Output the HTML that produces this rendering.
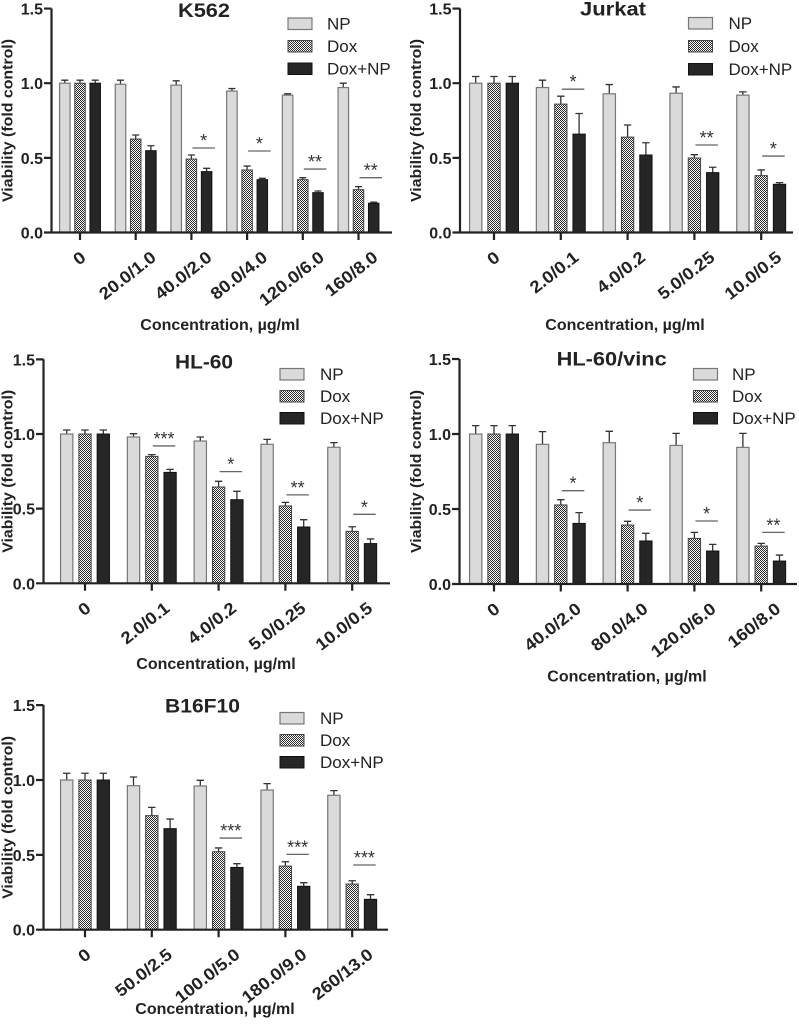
<!DOCTYPE html>
<html><head><meta charset="utf-8"><style>
html,body{margin:0;padding:0;background:#fff;}
svg{display:block;}
text{font-family:"Liberation Sans",Arial,sans-serif;}
.np{fill:#dadada;stroke:#777;stroke-width:1.2}
.dx{fill:url(#chk);stroke:#444;stroke-width:1}
.dn{fill:#262626;stroke:#111;stroke-width:1}
.eb{stroke:#333;stroke-width:1.3;fill:none}
.ax{stroke:#222;stroke-width:2.2;fill:none}
.sg{stroke:#666;stroke-width:1.3}
.yt{font-size:16px;font-weight:bold;fill:#222;text-anchor:end}
.xt{font-size:17px;font-weight:bold;fill:#222;text-anchor:end}
.tt{font-size:19px;font-weight:bold;fill:#222;text-anchor:middle}
.yl{font-size:14.5px;font-weight:bold;fill:#222;text-anchor:middle}
.xl{font-size:16px;font-weight:bold;fill:#222;text-anchor:middle}
.lg{font-size:17px;fill:#222}
.st{font-size:18px;fill:#333;text-anchor:middle}
</style></head><body>
<svg width="799" height="1024" viewBox="0 0 799 1024" xmlns="http://www.w3.org/2000/svg">
<defs>
<pattern id="chk" width="2" height="2" patternUnits="userSpaceOnUse"><rect width="2" height="2" fill="#fff"/><rect width="1" height="1" fill="#2a2a2a"/><rect x="1" y="1" width="1" height="1" fill="#2a2a2a"/></pattern>
</defs>
<rect width="799" height="1024" fill="#fff"/>

<!-- ================= K562 ================= -->
<g>
<text class="tt" x="204" y="17" textLength="52" lengthAdjust="spacingAndGlyphs">K562</text>
<text class="yl" transform="translate(12.5,120.5) rotate(-90)" textLength="163" lengthAdjust="spacingAndGlyphs">Viability (fold control)</text>
<text class="yt" x="43" y="14.5">1.5</text>
<text class="yt" x="43" y="89.2">1.0</text>
<text class="yt" x="43" y="163.9">0.5</text>
<text class="yt" x="43" y="238.5">0.0</text>
<path class="eb" d="M64.8 83.2V80.2M61.3 80.2H68.3M80 83.2V80.2M76.5 80.2H83.5M95.2 83.2V80.2M91.7 80.2H98.7
M120.5 84.25V80.21M117 80.21H124M135.7 139.04V135.01M132.2 135.01H139.2M150.9 150.68V145.76M147.4 145.76H154.4
M176.2 85.14V80.81M172.7 80.81H179.7M191.4 159.04V155.01M187.9 155.01H194.9M206.6 171.59V168.3M203.1 168.3H210.1
M231.9 91.11V88.57M228.4 88.57H235.4M247.1 169.94V166.06M243.6 166.06H250.6M262.3 179.65V178.3M258.8 178.3H265.8
M287.6 95.14V93.8M284.1 93.8H291.1M302.8 179.65V177.71M299.3 177.71H306.3M318 192.64V190.99M314.5 190.99H321.5
M343.3 87.53V83.2M339.8 83.2H346.8M358.5 189.65V186.66M355 186.66H362M373.7 203.24V202.19M370.2 202.19H377.2"/>
<rect class="np" x="59.55" y="83.2" width="10.5" height="149.3"/>
<rect class="dx" x="74.75" y="83.2" width="10.5" height="149.3"/>
<rect class="dn" x="89.95" y="83.2" width="10.5" height="149.3"/>
<rect class="np" x="115.25" y="84.25" width="10.5" height="148.25"/>
<rect class="dx" x="130.45" y="139.04" width="10.5" height="93.46"/>
<rect class="dn" x="145.65" y="150.68" width="10.5" height="81.82"/>
<rect class="np" x="170.95" y="85.14" width="10.5" height="147.36"/>
<rect class="dx" x="186.15" y="159.04" width="10.5" height="73.46"/>
<rect class="dn" x="201.35" y="171.59" width="10.5" height="60.91"/>
<rect class="np" x="226.65" y="91.11" width="10.5" height="141.39"/>
<rect class="dx" x="241.85" y="169.94" width="10.5" height="62.56"/>
<rect class="dn" x="257.05" y="179.65" width="10.5" height="52.85"/>
<rect class="np" x="282.35" y="95.14" width="10.5" height="137.36"/>
<rect class="dx" x="297.55" y="179.65" width="10.5" height="52.85"/>
<rect class="dn" x="312.75" y="192.64" width="10.5" height="39.86"/>
<rect class="np" x="338.05" y="87.53" width="10.5" height="144.97"/>
<rect class="dx" x="353.25" y="189.65" width="10.5" height="42.85"/>
<rect class="dn" x="368.45" y="203.24" width="10.5" height="29.26"/>
<path class="sg" d="M192.4 148H214.9M248.1 150.98H270.6M303.8 169.05H326.3M359.5 177.71H382"/>
<text class="st" x="203.6" y="147">*</text>
<text class="st" x="259.4" y="150">*</text>
<text class="st" x="315" y="168">**</text>
<text class="st" x="370.7" y="176.7">**</text>
<path class="ax" d="M51.5 8.5V232.5H392M44 8.55H51.5M44 83.2H51.5M44 157.85H51.5M44 232.5H51.5M80 232.5V240M135.7 232.5V240M191.4 232.5V240M247.1 232.5V240M302.8 232.5V240M358.5 232.5V240"/>
<text class="xt" transform="translate(87,259.5) rotate(-38)" textLength="10.5" lengthAdjust="spacingAndGlyphs">0</text>
<text class="xt" transform="translate(157.2,259.5) rotate(-38)" textLength="66.5" lengthAdjust="spacingAndGlyphs">20.0/1.0</text>
<text class="xt" transform="translate(212.9,259.5) rotate(-38)" textLength="66.5" lengthAdjust="spacingAndGlyphs">40.0/2.0</text>
<text class="xt" transform="translate(268.6,259.5) rotate(-38)" textLength="66.5" lengthAdjust="spacingAndGlyphs">80.0/4.0</text>
<text class="xt" transform="translate(325.3,259.5) rotate(-38)" textLength="76.7" lengthAdjust="spacingAndGlyphs">120.0/6.0</text>
<text class="xt" transform="translate(379,259.5) rotate(-38)" textLength="61.4" lengthAdjust="spacingAndGlyphs">160/8.0</text>
<text class="xl" x="220" y="330">Concentration, µg/ml</text>
<rect class="np" x="288" y="18" width="24" height="11.5"/>
<rect class="dx" x="288" y="40.5" width="24" height="11.5"/>
<rect class="dn" x="288" y="63" width="24" height="11.5"/>
<text class="lg" x="327" y="29.5">NP</text>
<text class="lg" x="327" y="52">Dox</text>
<text class="lg" x="327" y="74.5">Dox+NP</text>
</g>

<!-- ================= Jurkat ================= -->
<g>
<text class="tt" x="613" y="15.5" textLength="66" lengthAdjust="spacingAndGlyphs">Jurkat</text>
<text class="yl" transform="translate(421,120.5) rotate(-90)" textLength="163" lengthAdjust="spacingAndGlyphs">Viability (fold control)</text>
<text class="yt" x="451.5" y="14.5">1.5</text>
<text class="yt" x="451.5" y="89.2">1.0</text>
<text class="yt" x="451.5" y="163.9">0.5</text>
<text class="yt" x="451.5" y="238.5">0.0</text>
<path class="eb" d="M475.7 83.2V76.48M472 76.48H479.4M494 83.2V76.48M490.3 76.48H497.7M512.3 83.2V76.48M508.6 76.48H516
M542.5 87.53V80.21M538.8 80.21H546.2M560.8 104.1V96.19M557.1 96.19H564.5M579.1 134.11V113.51M575.4 113.51H582.8
M609.3 93.8V84.54M605.6 84.54H613M627.6 137.1V125M623.9 125H631.3M645.9 155.01V142.77M642.2 142.77H649.6
M676.1 93.2V86.93M672.4 86.93H679.8M694.4 158V154.71M690.7 154.71H698.1M712.7 172.63V167.26M709 167.26H716.4
M742.9 95.14V91.86M739.2 91.86H746.6M761.2 175.62V169.94M757.5 169.94H764.9M779.5 184.28V182.63M775.8 182.63H783.2"/>
<rect class="np" x="469.55" y="83.2" width="12.3" height="149.3"/>
<rect class="dx" x="487.85" y="83.2" width="12.3" height="149.3"/>
<rect class="dn" x="506.15" y="83.2" width="12.3" height="149.3"/>
<rect class="np" x="536.35" y="87.53" width="12.3" height="144.97"/>
<rect class="dx" x="554.65" y="104.1" width="12.3" height="128.4"/>
<rect class="dn" x="572.95" y="134.11" width="12.3" height="98.39"/>
<rect class="np" x="603.15" y="93.8" width="12.3" height="138.7"/>
<rect class="dx" x="621.45" y="137.1" width="12.3" height="95.4"/>
<rect class="dn" x="639.75" y="155.01" width="12.3" height="77.49"/>
<rect class="np" x="669.95" y="93.2" width="12.3" height="139.3"/>
<rect class="dx" x="688.25" y="158" width="12.3" height="74.5"/>
<rect class="dn" x="706.55" y="172.63" width="12.3" height="59.87"/>
<rect class="np" x="736.75" y="95.14" width="12.3" height="137.36"/>
<rect class="dx" x="755.05" y="175.62" width="12.3" height="56.88"/>
<rect class="dn" x="773.35" y="184.28" width="12.3" height="48.22"/>
<path class="sg" d="M561.8 89.17H584.3M695.4 145.01H717.9M762.2 156.06H784.7"/>
<text class="st" x="573" y="88.2">*</text>
<text class="st" x="706.6" y="144">**</text>
<text class="st" x="773.4" y="155">*</text>
<path class="ax" d="M460 8.5V232.5H793M452.5 8.55H460M452.5 83.2H460M452.5 157.85H460M452.5 232.5H460M494 232.5V240M560.8 232.5V240M627.6 232.5V240M694.4 232.5V240M761.2 232.5V240"/>
<text class="xt" transform="translate(501,259.5) rotate(-38)" textLength="10.5" lengthAdjust="spacingAndGlyphs">0</text>
<text class="xt" transform="translate(579.8,259.5) rotate(-38)" textLength="56.3" lengthAdjust="spacingAndGlyphs">2.0/0.1</text>
<text class="xt" transform="translate(646.6,259.5) rotate(-38)" textLength="56.3" lengthAdjust="spacingAndGlyphs">4.0/0.2</text>
<text class="xt" transform="translate(715.9,259.5) rotate(-38)" textLength="66.5" lengthAdjust="spacingAndGlyphs">5.0/0.25</text>
<text class="xt" transform="translate(782.7,259.5) rotate(-38)" textLength="66.5" lengthAdjust="spacingAndGlyphs">10.0/0.5</text>
<text class="xl" x="625" y="330">Concentration, µg/ml</text>
<rect class="np" x="688.5" y="17.5" width="24" height="11.5"/>
<rect class="dx" x="688.5" y="40.5" width="24" height="11.5"/>
<rect class="dn" x="688.5" y="63.5" width="24" height="11.5"/>
<text class="lg" x="728.5" y="29">NP</text>
<text class="lg" x="728.5" y="52">Dox</text>
<text class="lg" x="728.5" y="75">Dox+NP</text>
</g>

<!-- ================= HL-60 ================= -->
<g>
<text class="tt" x="204" y="368.5" textLength="58" lengthAdjust="spacingAndGlyphs">HL-60</text>
<text class="yl" transform="translate(12.5,471.3) rotate(-90)" textLength="163" lengthAdjust="spacingAndGlyphs">Viability (fold control)</text>
<text class="yt" x="35" y="365.3">1.5</text>
<text class="yt" x="35" y="440">1.0</text>
<text class="yt" x="35" y="514.6">0.5</text>
<text class="yt" x="35" y="589.3">0.0</text>
<path class="eb" d="M66.7 434V429.97M63 429.97H70.4M85 434V429.97M81.3 429.97H88.7M103.3 434V429.97M99.6 429.97H107
M133.5 436.99V433.7M129.8 433.7H137.2M151.8 456.4V454.6M148.1 454.6H155.5M170.1 472.37V469.39M166.4 469.39H173.8
M200.3 441.02V436.99M196.6 436.99H204M218.6 487V481.33M214.9 481.33H222.3M236.9 499.69V491.33M233.2 491.33H240.6
M267.1 444.3V439.37M263.4 439.37H270.8M285.4 505.96V502.38M281.7 502.38H289.1M303.7 527.01V519.7M300 519.7H307.4
M333.9 447.29V442.66M330.2 442.66H337.6M352.2 531.34V526.72M348.5 526.72H355.9M370.5 543.59V538.96M366.8 538.96H374.2"/>
<rect class="np" x="60.55" y="434" width="12.3" height="149.3"/>
<rect class="dx" x="78.85" y="434" width="12.3" height="149.3"/>
<rect class="dn" x="97.15" y="434" width="12.3" height="149.3"/>
<rect class="np" x="127.35" y="436.99" width="12.3" height="146.31"/>
<rect class="dx" x="145.65" y="456.4" width="12.3" height="126.9"/>
<rect class="dn" x="163.95" y="472.37" width="12.3" height="110.93"/>
<rect class="np" x="194.15" y="441.02" width="12.3" height="142.28"/>
<rect class="dx" x="212.45" y="487" width="12.3" height="96.3"/>
<rect class="dn" x="230.75" y="499.69" width="12.3" height="83.61"/>
<rect class="np" x="260.95" y="444.3" width="12.3" height="139"/>
<rect class="dx" x="279.25" y="505.96" width="12.3" height="77.34"/>
<rect class="dn" x="297.55" y="527.01" width="12.3" height="56.29"/>
<rect class="np" x="327.75" y="447.29" width="12.3" height="136.01"/>
<rect class="dx" x="346.05" y="531.34" width="12.3" height="51.96"/>
<rect class="dn" x="364.35" y="543.59" width="12.3" height="39.71"/>
<path class="sg" d="M152.8 445.94H175.3M219.6 471.62H242.1M286.4 494.91H308.9M353.2 514.32H375.7"/>
<text class="st" x="164" y="445">***</text>
<text class="st" x="230.8" y="470.6">*</text>
<text class="st" x="297.6" y="494">**</text>
<text class="st" x="364.4" y="513.3">*</text>
<path class="ax" d="M43.5 359.3V583.3H390M36 359.35H43.5M36 434H43.5M36 508.65H43.5M36 583.3H43.5M85 583.3V590.8M151.8 583.3V590.8M218.6 583.3V590.8M285.4 583.3V590.8M352.2 583.3V590.8"/>
<text class="xt" transform="translate(92,610.3) rotate(-38)" textLength="10.5" lengthAdjust="spacingAndGlyphs">0</text>
<text class="xt" transform="translate(170.8,610.3) rotate(-38)" textLength="56.3" lengthAdjust="spacingAndGlyphs">2.0/0.1</text>
<text class="xt" transform="translate(237.6,610.3) rotate(-38)" textLength="56.3" lengthAdjust="spacingAndGlyphs">4.0/0.2</text>
<text class="xt" transform="translate(306.9,610.3) rotate(-38)" textLength="66.5" lengthAdjust="spacingAndGlyphs">5.0/0.25</text>
<text class="xt" transform="translate(373.7,610.3) rotate(-38)" textLength="66.5" lengthAdjust="spacingAndGlyphs">10.0/0.5</text>
<text class="xl" x="216" y="669">Concentration, µg/ml</text>
<rect class="np" x="280" y="368.5" width="24" height="11.5"/>
<rect class="dx" x="280" y="390.5" width="24" height="11.5"/>
<rect class="dn" x="280" y="412.5" width="24" height="11.5"/>
<text class="lg" x="320" y="380">NP</text>
<text class="lg" x="320" y="402">Dox</text>
<text class="lg" x="320" y="424">Dox+NP</text>
</g>

<!-- ================= HL-60/vinc ================= -->
<g>
<text class="tt" x="611.7" y="365.5" textLength="110" lengthAdjust="spacingAndGlyphs">HL-60/vinc</text>
<text class="yl" transform="translate(421,471.5) rotate(-90)" textLength="163" lengthAdjust="spacingAndGlyphs">Viability (fold control)</text>
<text class="yt" x="451" y="365">1.5</text>
<text class="yt" x="451" y="440">1.0</text>
<text class="yt" x="451" y="515">0.5</text>
<text class="yt" x="451" y="590">0.0</text>
<path class="eb" d="M475.7 434V425.6M472 425.6H479.4M494 434V425.6M490.3 425.6H497.7M512.3 434V425.6M508.6 425.6H516
M542.5 444.35V431.6M538.8 431.6H546.2M560.8 504.95V499.7M557.1 499.7H564.5M579.1 523.4V512.6M575.4 512.6H582.8
M609.3 442.7V431.3M605.6 431.3H613M627.6 525.05V521.3M623.9 521.3H631.3M645.9 540.95V533.3M642.2 533.3H649.6
M676.1 445.4V433.4M672.4 433.4H679.8M694.4 538.4V532.4M690.7 532.4H698.1M712.7 551V544.4M709 544.4H716.4
M742.9 447.35V433.4M739.2 433.4H746.6M761.2 546.05V543.35M757.5 543.35H764.9M779.5 561.05V555.05M775.8 555.05H783.2"/>
<rect class="np" x="469.55" y="434" width="12.3" height="150"/>
<rect class="dx" x="487.85" y="434" width="12.3" height="150"/>
<rect class="dn" x="506.15" y="434" width="12.3" height="150"/>
<rect class="np" x="536.35" y="444.35" width="12.3" height="139.65"/>
<rect class="dx" x="554.65" y="504.95" width="12.3" height="79.05"/>
<rect class="dn" x="572.95" y="523.4" width="12.3" height="60.6"/>
<rect class="np" x="603.15" y="442.7" width="12.3" height="141.3"/>
<rect class="dx" x="621.45" y="525.05" width="12.3" height="58.95"/>
<rect class="dn" x="639.75" y="540.95" width="12.3" height="43.05"/>
<rect class="np" x="669.95" y="445.4" width="12.3" height="138.6"/>
<rect class="dx" x="688.25" y="538.4" width="12.3" height="45.6"/>
<rect class="dn" x="706.55" y="551" width="12.3" height="33"/>
<rect class="np" x="736.75" y="447.35" width="12.3" height="136.65"/>
<rect class="dx" x="755.05" y="546.05" width="12.3" height="37.95"/>
<rect class="dn" x="773.35" y="561.05" width="12.3" height="22.95"/>
<path class="sg" d="M561.8 490.7H584.3M628.6 510.05H651.1M695.4 521H717.9M762.2 532.4H784.7"/>
<text class="st" x="573" y="489.7">*</text>
<text class="st" x="639.8" y="509">*</text>
<text class="st" x="706.6" y="520">*</text>
<text class="st" x="773.4" y="531.4">**</text>
<path class="ax" d="M459.5 359V584H797M452 359H459.5M452 434H459.5M452 509H459.5M452 584H459.5M494 584V591.5M560.8 584V591.5M627.6 584V591.5M694.4 584V591.5M761.2 584V591.5"/>
<text class="xt" transform="translate(501,611) rotate(-38)" textLength="10.5" lengthAdjust="spacingAndGlyphs">0</text>
<text class="xt" transform="translate(582.3,611) rotate(-38)" textLength="66.5" lengthAdjust="spacingAndGlyphs">40.0/2.0</text>
<text class="xt" transform="translate(649.1,611) rotate(-38)" textLength="66.5" lengthAdjust="spacingAndGlyphs">80.0/4.0</text>
<text class="xt" transform="translate(717,611) rotate(-38)" textLength="76.7" lengthAdjust="spacingAndGlyphs">120.0/6.0</text>
<text class="xt" transform="translate(781.7,611) rotate(-38)" textLength="61.4" lengthAdjust="spacingAndGlyphs">160/8.0</text>
<text class="xl" x="627" y="681.5">Concentration, µg/ml</text>
<rect class="np" x="693.5" y="368.5" width="24" height="11.5"/>
<rect class="dx" x="693.5" y="390.5" width="24" height="11.5"/>
<rect class="dn" x="693.5" y="412.5" width="24" height="11.5"/>
<text class="lg" x="732" y="380">NP</text>
<text class="lg" x="732" y="402">Dox</text>
<text class="lg" x="732" y="424">Dox+NP</text>
</g>

<!-- ================= B16F10 ================= -->
<g>
<text class="tt" x="202.5" y="712.5" textLength="75" lengthAdjust="spacingAndGlyphs">B16F10</text>
<text class="yl" transform="translate(12.5,817.4) rotate(-90)" textLength="163" lengthAdjust="spacingAndGlyphs">Viability (fold control)</text>
<text class="yt" x="35" y="711.2">1.5</text>
<text class="yt" x="35" y="786">1.0</text>
<text class="yt" x="35" y="860.9">0.5</text>
<text class="yt" x="35" y="935.7">0.0</text>
<path class="eb" d="M66.7 780V773.26M63 773.26H70.4M85 780V773.26M81.3 773.26H88.7M103.3 780V773.26M99.6 773.26H107
M133.5 785.69V777.01M129.8 777.01H137.2M151.8 815.63V807.4M148.1 807.4H155.5M170.1 828.65V819.07M166.4 819.07H173.8
M200.3 785.99V780.3M196.6 780.3H204M218.6 851.71V847.96M214.9 847.96H222.3M236.9 867.42V863.68M233.2 863.68H240.6
M267.1 790.03V783.59M263.4 783.59H270.8M285.4 866.08V861.74M281.7 861.74H289.1M303.7 886.29V882.69M300 882.69H307.4
M333.9 795.27V790.63M330.2 790.63H337.6M352.2 884.04V880.75M348.5 880.75H355.9M370.5 899.31V894.67M366.8 894.67H374.2"/>
<rect class="np" x="60.55" y="780" width="12.3" height="149.7"/>
<rect class="dx" x="78.85" y="780" width="12.3" height="149.7"/>
<rect class="dn" x="97.15" y="780" width="12.3" height="149.7"/>
<rect class="np" x="127.35" y="785.69" width="12.3" height="144.01"/>
<rect class="dx" x="145.65" y="815.63" width="12.3" height="114.07"/>
<rect class="dn" x="163.95" y="828.65" width="12.3" height="101.05"/>
<rect class="np" x="194.15" y="785.99" width="12.3" height="143.71"/>
<rect class="dx" x="212.45" y="851.71" width="12.3" height="77.99"/>
<rect class="dn" x="230.75" y="867.42" width="12.3" height="62.28"/>
<rect class="np" x="260.95" y="790.03" width="12.3" height="139.67"/>
<rect class="dx" x="279.25" y="866.08" width="12.3" height="63.62"/>
<rect class="dn" x="297.55" y="886.29" width="12.3" height="43.41"/>
<rect class="np" x="327.75" y="795.27" width="12.3" height="134.43"/>
<rect class="dx" x="346.05" y="884.04" width="12.3" height="45.66"/>
<rect class="dn" x="364.35" y="899.31" width="12.3" height="30.39"/>
<path class="sg" d="M219.6 838.08H242.1M286.4 854.4H308.9M353.2 865.03H375.7"/>
<text class="st" x="230.8" y="837">***</text>
<text class="st" x="297.6" y="853.4">***</text>
<text class="st" x="364.4" y="864">***</text>
<path class="ax" d="M43.5 705.1V929.7H388M36 705.15H43.5M36 780H43.5M36 854.85H43.5M36 929.7H43.5M85 929.7V937.2M151.8 929.7V937.2M218.6 929.7V937.2M285.4 929.7V937.2M352.2 929.7V937.2"/>
<text class="xt" transform="translate(92,956.7) rotate(-38)" textLength="10.5" lengthAdjust="spacingAndGlyphs">0</text>
<text class="xt" transform="translate(173.3,956.7) rotate(-38)" textLength="66.5" lengthAdjust="spacingAndGlyphs">50.0/2.5</text>
<text class="xt" transform="translate(241.1,956.7) rotate(-38)" textLength="76.7" lengthAdjust="spacingAndGlyphs">100.0/5.0</text>
<text class="xt" transform="translate(307.9,956.7) rotate(-38)" textLength="76.7" lengthAdjust="spacingAndGlyphs">180.0/9.0</text>
<text class="xt" transform="translate(374.2,956.7) rotate(-38)" textLength="71.6" lengthAdjust="spacingAndGlyphs">260/13.0</text>
<text class="xl" x="215" y="1014">Concentration, µg/ml</text>
<rect class="np" x="280" y="712.5" width="24" height="11.5"/>
<rect class="dx" x="280" y="734.5" width="24" height="11.5"/>
<rect class="dn" x="280" y="756.5" width="24" height="11.5"/>
<text class="lg" x="320" y="724">NP</text>
<text class="lg" x="320" y="746">Dox</text>
<text class="lg" x="320" y="768">Dox+NP</text>
</g>
</svg>
</body></html>
